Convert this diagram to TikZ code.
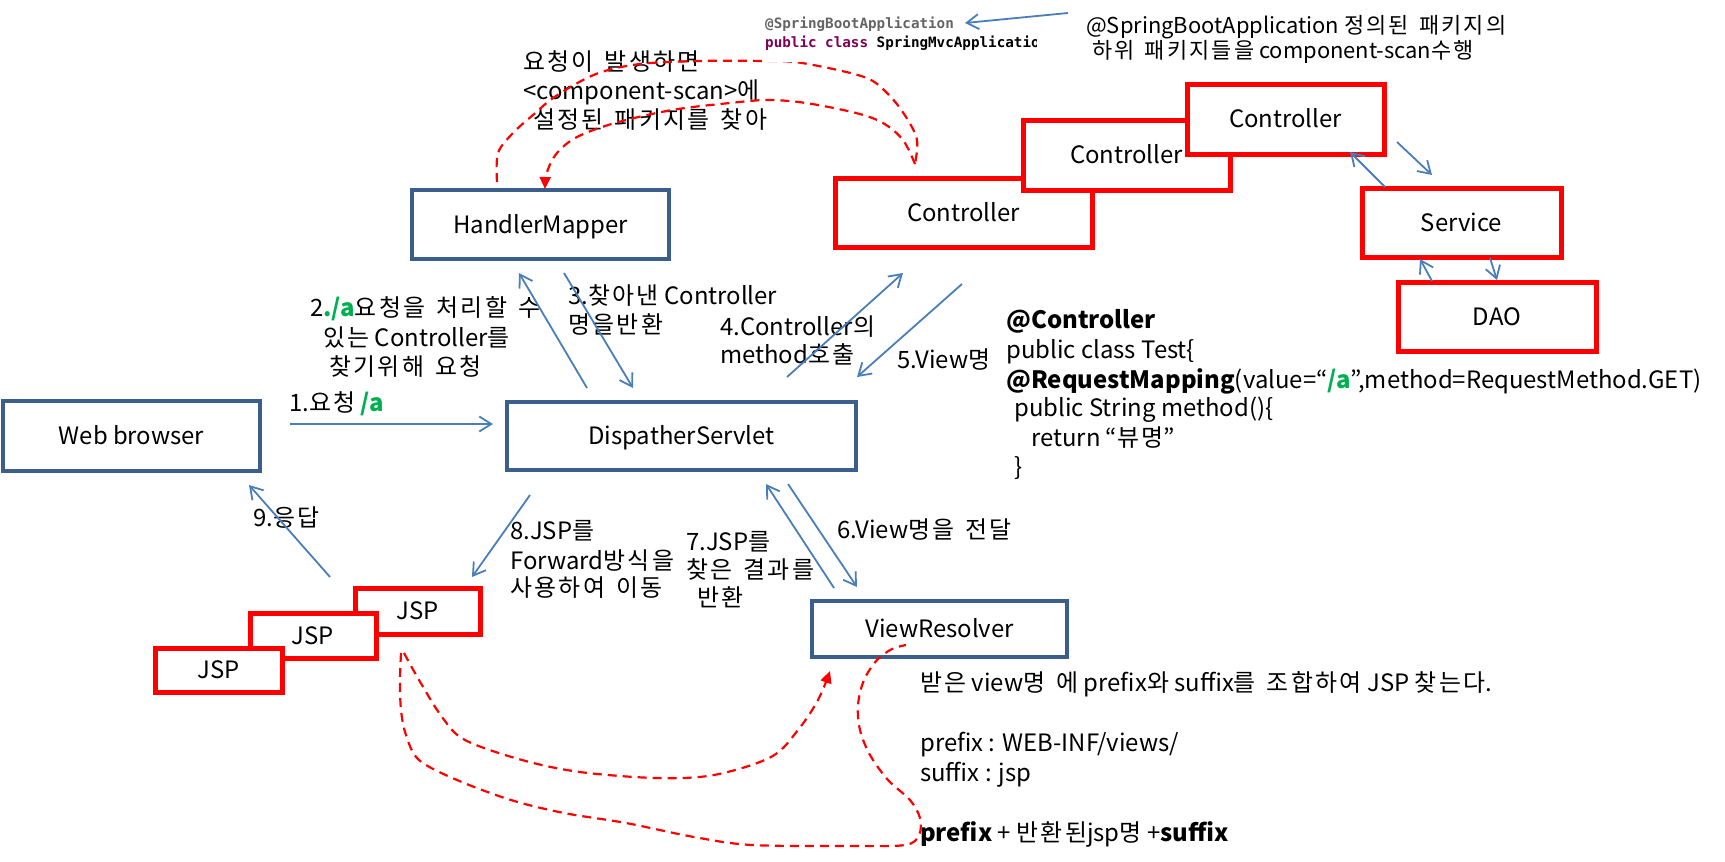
\documentclass[tikz,border=0pt]{standalone}
\usepackage{fontspec}
\setmainfont{Noto Sans CJK KR}
\newfontfamily\krf[LetterSpace=10,WordSpace=1.4]{Noto Sans CJK KR}
\newfontfamily\monofnt{DejaVu Sans Mono}
\usetikzlibrary{arrows.meta}
\definecolor{boxblue}{HTML}{3A5F8B}
\definecolor{arrblue}{HTML}{4A7EBB}
\definecolor{pgreen}{HTML}{00B050}
\definecolor{annogray}{HTML}{646464}
\definecolor{kwpurple}{HTML}{7F0055}
\newcommand{\fsz}{\fontsize{24}{29}\selectfont}
\newcommand{\fszs}{\fontsize{22}{26}\selectfont}
\newcommand{\grn}[1]{\textcolor{pgreen}{\textbf{#1}}}
\newcommand{\K}[1]{{\krf #1}}
\begin{document}
\begin{tikzpicture}[x=1bp,y=-1bp,
  bbox/.style={draw=boxblue, line width=3.5bp, fill=white, inner sep=0pt, font=\fsz, text height=17.8bp, text depth=0pt},
  rbox/.style={draw=red, line width=5bp, fill=white, inner sep=0pt, font=\fsz, text height=17.8bp, text depth=0pt},
  lbl/.style={anchor=west, inner sep=0pt, font=\fsz, text height=17.8bp, text depth=0pt},
  lbls/.style={anchor=west, inner sep=0pt, font=\fszs, text height=16.3bp, text depth=0pt},
  flow/.style={draw=arrblue, line width=1.8bp, -{Straight Barb[length=12bp,width=15bp]}},
  dsh/.style={draw=red, line width=2.2bp, dash pattern=on 9bp off 6bp},
  snip/.style={anchor=west, inner sep=0pt, font=\monofnt\bfseries\fontsize{14.3}{17}\selectfont, text height=8.6bp, text depth=0pt},
]
\useasboundingbox (0,0) rectangle (1725,862);

% ---- boxes ----
\node[bbox, minimum width=257bp, minimum height=70bp] (web) at (131.5,436) {Web browser};
\node[bbox, minimum width=349bp, minimum height=68bp] (ds) at (681.5,436) {DispatherServlet};
\node[bbox, minimum width=257bp, minimum height=69bp] (hm) at (540.5,224.5) {HandlerMapper};
\node[bbox, minimum width=255bp, minimum height=56bp] (vr) at (939.5,629) {ViewResolver};

\node[rbox, minimum width=257bp, minimum height=69bp] (ctrlA) at (963.5,212.5) {Controller};
\node[rbox, minimum width=207bp, minimum height=70bp] (ctrlB) at (1126.5,155) {Controller};
\node[rbox, minimum width=197bp, minimum height=70bp] (ctrlC) at (1285.5,119) {Controller};
\node[rbox, minimum width=199bp, minimum height=69bp] (svc) at (1461.5,222.5) {Service};
\node[rbox, minimum width=198bp, minimum height=69bp] (dao) at (1497,316.5) {DAO};

\node[rbox, minimum width=125bp, minimum height=46bp] (jspA) at (417.5,611) {JSP};
\node[rbox, minimum width=126bp, minimum height=45bp] (jspB) at (313,635.5) {JSP};
\node[rbox, minimum width=127bp, minimum height=44bp] (jspC) at (218.5,670) {JSP};

% ---- labels ----
\node[lbls] (sbA) at (1086,25) {@SpringBootApplication \K{정의된 패키지의}};
\node[lbls] (sbB) at (1092,50) {\K{하위 패키지들을} component-scan\K{수행}};

\node[lbl] (rqA) at (523,62) {\K{요청이 발생하면}};
\node[lbl] (rqB) at (523,91) {<component-scan>\K{에}};
\node[lbl] (rqC) at (533,120) {\K{설정된 패키지를 찾아}};

\node[lbl] (lA) at (289,403) {1.\K{요청} \grn{/a}};
\node[lbl] (lBa) at (310,308) {2\grn{./a}\K{요청을 처리할 수}};
\node[lbl] (lBb) at (323,338) {\K{있는} Controller\K{를}};
\node[lbl] (lBc) at (329,367) {\K{찾기위해 요청}};
\node[lbl] (lCa) at (568,296) {3.\K{찾아낸} Controller};
\node[lbl] (lCb) at (568,325) {\K{명을반환}};
\node[lbl] (lDa) at (720,327) {4.Controller\K{의}};
\node[lbl] (lDb) at (720,355) {method\K{호출}};
\node[lbl] (lE) at (897,360) {5.View\K{명}};
\node[lbl] (lF) at (837,530) {6.View\K{명을 전달}};
\node[lbl] (lGa) at (686,542) {7.JSP\K{를}};
\node[lbl] (lGb) at (686,570) {\K{찾은 결과를}};
\node[lbl] (lGc) at (697,598) {\K{반환}};
\node[lbl] (lHa) at (510,531) {8.JSP\K{를}};
\node[lbl] (lHb) at (510,561) {Forward\K{방식을}};
\node[lbl] (lHc) at (510,588) {\K{사용하여 이동}};
\node[lbl] (lI) at (253,518) {9.\K{응답}};

\node[lbl] (cdA) at (1006,320) {\textbf{@Controller}};
\node[lbl] (cdB) at (1006,350) {public class Test\{};
\node[lbl] (cdC) at (1006,380) {\textbf{@RequestMapping}(value=“\grn{/a}”,method=RequestMethod.GET)};
\node[lbl] (cdD) at (1014,408) {public String method()\{};
\node[lbl] (cdE) at (1031,438) {return “\K{뷰명}”};
\node[lbl] (cdF) at (1014,467) {\}};

\node[lbl] (vrA) at (920,683) {\K{받은} view\K{명 에} prefix\K{와} suffix\K{를 조합하여} JSP \K{찾는다}.};
\node[lbl] (vrB) at (920,743) {prefix : WEB-INF/views/};
\node[lbl] (vrC) at (920,773) {suffix : jsp};
\node[lbl] (vrD) at (920,833) {\textbf{prefix} + \K{반환된}jsp\K{명} +\textbf{suffix}};

% ---- red dashed curves ----
\draw[dsh] plot[smooth, tension=0.55] coordinates {(497,182) (498,153) (513,133) (533,115) (556,96) (596,74) (640,64) (700,61) (764,61) (802,63) (864,77) (888,94) (906,117) (917,140) (915,164)};
\draw[dsh, -{Triangle[length=12bp,width=11bp]}] plot[smooth, tension=0.55] coordinates {(915,164) (903,140) (883,123) (856,113) (806,103) (768,100) (730,103) (672,110) (615,123) (577,137) (557,153) (547,172) (545,189)};

\draw[dsh, -{Triangle[length=12bp,width=11bp]}] plot[smooth, tension=0.55] coordinates {(404,653) (419,680) (442,717) (465,740) (522,760) (580,772) (656,778) (714,775) (771,757) (798,730) (818,700) (830,671)};
\draw[dsh] plot[smooth, tension=0.55] coordinates {(401,653) (400,680) (401,710) (406,735) (419,760) (457,780) (511,800) (564,813) (626,823) (694,837) (752,845) (850,846) (905,845) (919,835) (920,818) (910,800) (888,780) (870,755) (860,730) (858,705) (864,680) (877,660) (892,649) (906,645)};

% ---- code snippet (drawn over the dashed line) ----
\node[fill=white, inner sep=0pt, minimum width=273bp, minimum height=54bp, anchor=north west] (snipbg) at (763,8) {};
\begin{scope}
\clip (763,8) rectangle (1036,62);
\node[snip, text=annogray] (snipA) at (765,24) {@SpringBootApplication};
\node[snip] (snipB) at (765,43) {\textcolor{kwpurple}{public class} SpringMvcApplication};
\end{scope}

% ---- blue arrows ----
\coordinate (a1s) at (290,424);  \coordinate (a1e) at (493,424);
\coordinate (a2s) at (587,388);  \coordinate (a2e) at (519,273);
\coordinate (a3s) at (564,273);  \coordinate (a3e) at (633,388);
\coordinate (a4s) at (787,377);  \coordinate (a4e) at (903,273);
\coordinate (a5s) at (962,284);  \coordinate (a5e) at (857,377);
\coordinate (a6s) at (788,484);  \coordinate (a6e) at (857,587);
\coordinate (a7s) at (834,588);  \coordinate (a7e) at (766,484);
\coordinate (a8s) at (530,495);  \coordinate (a8e) at (472,577);
\coordinate (a9s) at (330,577);  \coordinate (a9e) at (249,485);
\coordinate (b1s) at (1397,142); \coordinate (b1e) at (1432,175);
\coordinate (b2s) at (1385,187); \coordinate (b2e) at (1350,152);
\coordinate (b3s) at (1432,281); \coordinate (b3e) at (1420,259);
\coordinate (b4s) at (1490,258); \coordinate (b4e) at (1497,280);
\coordinate (b5s) at (1068,13);  \coordinate (b5e) at (965,23);
\foreach \p in {a1,a2,a3,a4,a5,a6,a7,a8,a9,b1,b2,b3,b4,b5}
  \draw[flow] (\p s) -- (\p e);
\end{tikzpicture}
\end{document}
